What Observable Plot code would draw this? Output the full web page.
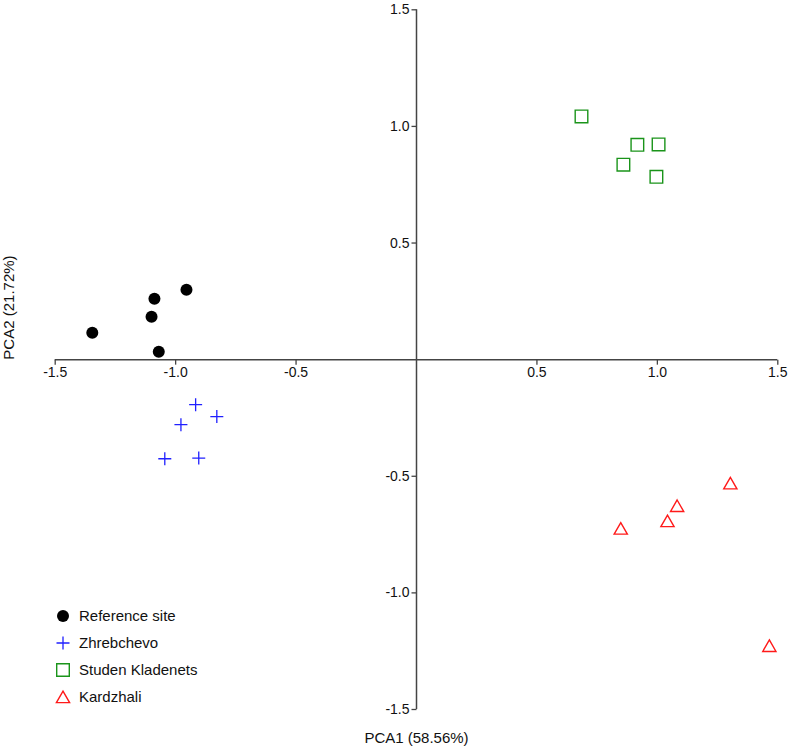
<!DOCTYPE html>
<html>
<head>
<meta charset="utf-8">
<script src="https://cdn.jsdelivr.net/npm/d3@7"></script>
<script src="https://cdn.jsdelivr.net/npm/@observablehq/plot@0.6"></script>
<style>
  body { margin: 0; background: #fff; font-family: "Liberation Sans", Arial, sans-serif; }
  #wrap { position: relative; width: 790px; height: 751px; }
  #legend { position: absolute; left: 52px; top: 602px; font-size: 15px; color: #111; }
  .row { display: flex; align-items: center; height: 27px; }
  .row svg { width: 22px; height: 22px; margin-right: 5px; overflow: visible; }
</style>
</head>
<body>
<div id="wrap"><div id="legend"></div></div>
<script>
// ---- data ----
const groups = ["Reference site", "Zhrebchevo", "Studen Kladenets", "Kardzhali"];
const refX = [-1.346, -1.088, -1.100, -0.955, -1.070];
const refY = [0.115, 0.261, 0.184, 0.300, 0.034];
const zhrX = [-0.917, -0.829, -0.978, -1.045, -0.904];
const zhrY = [-0.193, -0.244, -0.279, -0.425, -0.422];
const studX = [0.685, 0.917, 1.005, 0.859, 0.996];
const studY = [1.043, 0.921, 0.923, 0.836, 0.784];
const kardX = [1.303, 1.082, 1.042, 0.848, 1.465];
const kardY = [-0.530, -0.627, -0.692, -0.724, -1.227];
const tickValues = [-1.5, -1.0, -0.5, 0.5, 1.0, 1.5];
const tickLabels = ["-1.5", "-1.0", "-0.5", "0.5", "1.0", "1.5"];
const xTitle = "PCA1 (58.56%)";
const yTitle = "PCA2 (21.72%)";

// ---- symbols ----
const symCircle = {draw(c) { c.moveTo(6, 0); c.arc(0, 0, 6, 0, 2 * Math.PI); }};
const symPlus = {draw(c) { c.moveTo(-6.5, 0); c.lineTo(6.5, 0); c.moveTo(0, -6.5); c.lineTo(0, 6.5); }};
const symSquare = {draw(c) { c.rect(-6.3, -6.3, 12.6, 12.6); }};
const symTriangle = {draw(c) { c.moveTo(0, -5.9); c.lineTo(6.6, 5.6); c.lineTo(-6.6, 5.6); c.closePath(); }};
const tickDown = {draw(c) { c.moveTo(0, 0); c.lineTo(0, 5); }};
const tickLeft = {draw(c) { c.moveTo(0, 0); c.lineTo(-5, 0); }};

const colors = {"Reference site": "#000000", "Zhrebchevo": "#2020ff", "Studen Kladenets": "#1a941a", "Kardzhali": "#ff1a1a"};
const styles = [
  {name: groups[0], sym: symCircle, fill: colors[groups[0]], stroke: "none", sw: 0},
  {name: groups[1], sym: symPlus, fill: "none", stroke: colors[groups[1]], sw: 1.3},
  {name: groups[2], sym: symSquare, fill: "none", stroke: colors[groups[2]], sw: 1.4},
  {name: groups[3], sym: symTriangle, fill: "none", stroke: colors[groups[3]], sw: 1.4}
];

const series = [[refX, refY], [zhrX, zhrY], [studX, studY], [kardX, kardY]];
const rows = series.map(([xs, ys], i) => xs.map((x, j) => ({group: groups[i], x, y: ys[j]})));

const axisColor = "#444";
const W = 790, H = 751;

const plot = Plot.plot({
  width: W, height: H,
  marginLeft: 54.7, marginRight: 12.7, marginTop: 9.3, marginBottom: 42,
  x: {domain: [-1.5, 1.5], axis: null},
  y: {domain: [-1.5, 1.5], axis: null},
  style: {fontFamily: "'Liberation Sans', Arial, sans-serif", fontSize: "14px", color: "#111", background: "#fff"},
  marks: [
    Plot.ruleY([0], {x1: -1.5, x2: 1.5, stroke: axisColor, strokeWidth: 1.5}),
    Plot.ruleX([0], {y1: -1.5, y2: 1.5, stroke: axisColor, strokeWidth: 1.5}),
    Plot.dot(tickValues, {x: d => d, y: 0, symbol: tickDown, fill: "none", stroke: axisColor, strokeWidth: 1.3}),
    Plot.dot(tickValues, {x: 0, y: d => d, symbol: tickLeft, fill: "none", stroke: axisColor, strokeWidth: 1.3}),
    Plot.text(tickValues, {x: d => d, y: 0, text: (d, i) => tickLabels[i], dy: 13, fill: "#111"}),
    Plot.text(tickValues, {x: 0, y: d => d, text: (d, i) => tickLabels[i], dx: -7, textAnchor: "end", fill: "#111"}),
    Plot.text([xTitle], {x: 0, frameAnchor: "bottom", dy: 33, text: d => d, fontSize: 15, fill: "#111"}),
    Plot.text([yTitle], {y: 0, frameAnchor: "left", dx: -46, rotate: -90, text: d => d, fontSize: 15, fill: "#111"}),
    ...styles.map((s, i) => Plot.dot(rows[i], {x: "x", y: "y", symbol: s.sym, fill: s.fill, stroke: s.stroke, strokeWidth: s.sw}))
  ]
});
document.getElementById("wrap").prepend(plot);

// ---- legend (HTML overlay) ----
const legend = d3.select("#legend");
styles.forEach(s => {
  const p = d3.path();
  s.sym.draw(p);
  const row = legend.append("div").attr("class", "row");
  const svg = row.append("svg").attr("viewBox", "-11 -11 22 22");
  svg.append("path").attr("d", p.toString())
    .attr("fill", s.fill).attr("stroke", s.stroke).attr("stroke-width", s.sw);
  row.append("span").text(s.name);
});
</script>
</body>
</html>
